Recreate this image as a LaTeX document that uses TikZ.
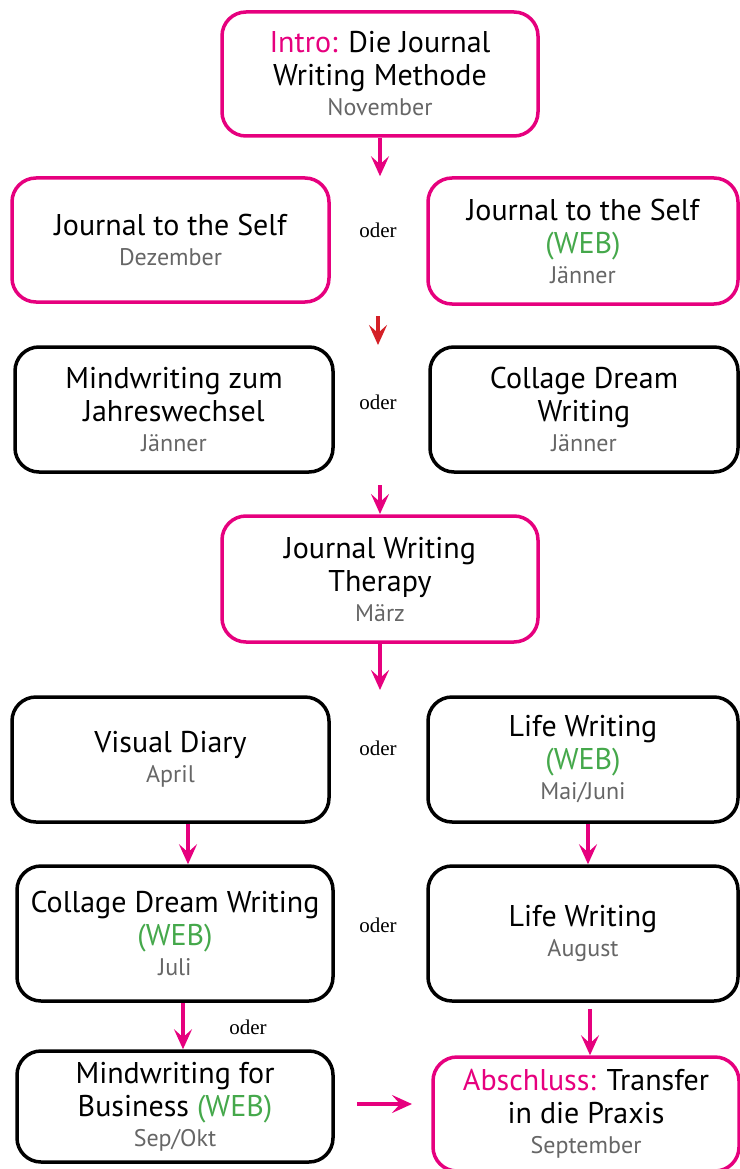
\documentclass[tikz,border=0pt]{standalone}
\usepackage{fontspec}
\setmainfont{PT Sans}
\newfontfamily\oderfont{Liberation Serif}
\usetikzlibrary{arrows.meta,calc}
\definecolor{pinkc}{HTML}{E6007E}
\definecolor{redc}{HTML}{D42027}
\definecolor{greenc}{HTML}{45A84B}
\definecolor{grayc}{HTML}{666666}
\newcommand\mon[1]{\\[-3pt]{\fontsize{24}{30}\selectfont\color{grayc}#1}}
\newcommand\web{{\color{greenc}(WEB)}}
\begin{document}
\begin{tikzpicture}[x=1pt,y=-1pt,
 box/.style={draw, line width=3.5pt, rounded corners=24pt, align=center, inner sep=0pt, font=\fontsize{30}{33}\selectfont},
 pinkbox/.style={box, draw=pinkc},
 blackbox/.style={box, draw=black},
 arr/.style={pinkc, line width=3.5pt, -{Stealth[length=20pt,width=18pt,inset=8pt]}},
 redarr/.style={arr, redc},
 oder/.style={font=\oderfont\fontsize{21}{24}\selectfont, inner sep=0pt}]
\useasboundingbox (0,0) rectangle (739,1169);
% row 1
\node[pinkbox, minimum width=316pt, minimum height=124pt] (intro) at (380,74)
  {{\color{pinkc}Intro:} Die Journal\\Writing Methode\mon{November}};
% row 2
\node[pinkbox, minimum width=317pt, minimum height=124pt] (j1) at (170.5,240)
  {Journal to the Self\mon{Dezember}};
\node[pinkbox, minimum width=310pt, minimum height=126pt] (j2) at (583,241)
  {Journal to the Self\\\web\mon{Jänner}};
\node[oder] (o1) at (378,230) {oder};
% row 3
\node[blackbox, minimum width=318pt, minimum height=125pt] (m1) at (174,409.5)
  {Mindwriting zum\\Jahreswechsel\mon{Jänner}};
\node[blackbox, minimum width=308pt, minimum height=125pt] (c1) at (584,409.5)
  {Collage Dream\\Writing\mon{Jänner}};
\node[oder] (o2) at (378,402) {oder};
% row 4
\node[pinkbox, minimum width=316pt, minimum height=126pt] (jwt) at (380,579)
  {Journal Writing\\Therapy\mon{März}};
% row 5
\node[blackbox, minimum width=317pt, minimum height=125pt] (vd) at (170.5,759.5)
  {Visual Diary\mon{April}};
\node[blackbox, minimum width=310pt, minimum height=125pt] (lw) at (583,759.5)
  {Life Writing\\\web\mon{Mai/Juni}};
\node[oder] (o3) at (378,748) {oder};
% row 6
\node[blackbox, minimum width=316pt, minimum height=135pt] (cw) at (175,933.5)
  {Collage Dream Writing\\\web\mon{Juli}};
\node[blackbox, minimum width=310pt, minimum height=135pt] (la) at (583,933.5)
  {Life Writing\mon{August}};
\node[oder] (o4) at (378,925) {oder};
% row 7
\node[blackbox, minimum width=316pt, minimum height=111pt] (mb) at (175,1106.5)
  {Mindwriting for\\Business \web\mon{Sep/Okt}};
\node[pinkbox, minimum width=306pt, minimum height=114pt] (ab) at (586,1114)
  {{\color{pinkc}Abschluss:} Transfer\\in die Praxis\mon{September}};
\node[oder] (o5) at (248,1027) {oder};
% connectors
\coordinate (r1) at (378,316);
\coordinate (r2) at (378,345);
\coordinate (p1) at (380,485);
\coordinate (p2) at (380,514);
\coordinate (q2) at (380,690);
\coordinate (h1) at (357,1104);
\coordinate (h2) at (412,1104);
\draw[arr] (intro.south) -- (intro.south |- j1.north);
\draw[redarr] (r1) -- (r2);
\draw[arr] (p1) -- (p2);
\draw[arr] (jwt.south) -- (q2);
\draw[arr] (vd.south -| 188,0) -- (cw.north -| 188,0);
\draw[arr] (lw.south -| 588,0) -- (la.north -| 588,0);
\draw[arr] (cw.south -| 183,0) -- (mb.north -| 183,0);
\draw[arr] ($(la.south -| 590,0)+(0,6)$) -- (ab.north -| 590,0);
\draw[arr] (h1) -- (h2);
\end{tikzpicture}
\end{document}
